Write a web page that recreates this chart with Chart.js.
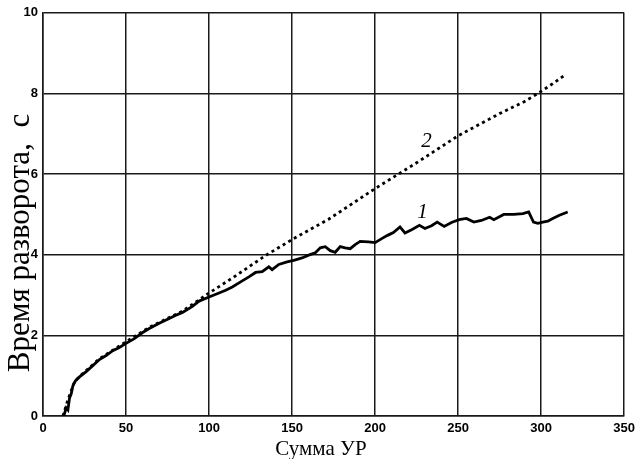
<!DOCTYPE html>
<html>
<head>
<meta charset="utf-8">
<script src="https://cdn.jsdelivr.net/npm/chart.js@4.4.0/dist/chart.umd.min.js"></script>
<style>
  html, body { margin: 0; padding: 0; background: #fff; }
  #wrap { width: 640px; height: 459px; }
</style>
</head>
<body>
<div id="wrap"><canvas id="chart" width="640" height="459"></canvas></div>
<script>
// Кривая 1 (сплошная)
const curve1X = [12.5, 14, 15, 16, 17, 18, 19.5, 22, 26, 30, 34, 38, 42, 46, 50, 55, 60, 64, 70, 76, 80, 84, 90, 94, 100,
    106, 110, 114, 120, 124, 128, 132, 136, 138, 142, 147, 151, 156, 160, 164, 167, 170, 173, 176, 179, 182, 185, 188, 191,
    196, 200, 204, 207.5, 211, 215, 218, 222, 226.7, 230, 234, 237.4, 241.6, 246, 250.6, 255, 259.5, 264, 269, 271.5,
    277.5, 283.5, 289, 292.5, 295.4, 298, 301, 304, 307, 311, 316];
const curve1Y = [0, 0.2, 0.15, 0.45, 0.55, 0.75, 0.87, 0.97, 1.1, 1.25, 1.4, 1.5, 1.62, 1.7, 1.8, 1.92, 2.07, 2.17, 2.3, 2.42, 2.5, 2.57, 2.72, 2.85, 2.95,
    3.05, 3.12, 3.2, 3.35, 3.45, 3.56, 3.58, 3.7, 3.63, 3.76, 3.82, 3.86, 3.92, 3.99, 4.05, 4.17, 4.2, 4.1, 4.06, 4.2, 4.17, 4.15, 4.25, 4.33,
    4.32, 4.3, 4.4, 4.48, 4.55, 4.69, 4.54, 4.62, 4.73, 4.65, 4.72, 4.81, 4.70, 4.8, 4.87, 4.9, 4.81, 4.85, 4.93, 4.87,
    5.0, 5.0, 5.02, 5.06, 4.81, 4.78, 4.81, 4.83, 4.9, 4.98, 5.06];

// Кривая 2 (пунктир)
const curve2X = [12, 15, 19, 22, 34, 50, 64, 84, 100, 114, 134, 151, 172, 200, 225, 250, 275, 290, 300, 308, 315];
const curve2Y = [0, 0.4, 0.85, 0.98, 1.42, 1.84, 2.2, 2.6, 3.05, 3.42, 3.98, 4.4, 4.88, 5.64, 6.28, 6.95, 7.5, 7.8, 8.05, 8.27, 8.48];

const xMin = 0, xMax = 350, xStep = 50;
const yMin = 0, yMax = 10, yStep = 2;

const xTitle = 'Сумма УР';
const yTitle = 'Время разворота,  с';

const curveLabels = ['1', '2'];
const curveLabelX = [228.5, 231];
const curveLabelY = [5.05, 6.8];

const toPoints = (xs, ys) => xs.map((x, i) => ({ x: x, y: ys[i] }));

// подписи кривых и осей
const textPlugin = {
    id: 'texts',
    afterDraw(chart) {
        const { ctx, scales } = chart;
        ctx.save();
        ctx.fillStyle = '#000';
        ctx.font = 'italic 21px "Liberation Serif"';
        ctx.textAlign = 'center';
        ctx.textBaseline = 'middle';
        curveLabels.forEach((t, i) => {
            ctx.fillText(t, scales.x.getPixelForValue(curveLabelX[i]), scales.y.getPixelForValue(curveLabelY[i]));
        });

        ctx.font = '21px "Liberation Serif"';
        ctx.textBaseline = 'alphabetic';
        ctx.fillText(xTitle, 321, 455);

        ctx.translate(29, 243);
        ctx.rotate(-Math.PI / 2);
        ctx.font = '31px "Liberation Serif"';
        ctx.fillText(yTitle, 0, 0);
        ctx.restore();
    }
};

const gridColor = '#1a1a1a';
const tickFont = { family: '"Liberation Sans Narrow", "Liberation Sans"', size: 13, weight: 'bold' };

new Chart(document.getElementById('chart'), {
    type: 'scatter',
    data: {
        datasets: [
            {
                data: toPoints(curve1X, curve1Y),
                showLine: true,
                borderColor: '#000',
                borderWidth: 2.8,
                pointRadius: 0,
                tension: 0
            },
            {
                data: toPoints(curve2X, curve2Y),
                showLine: true,
                borderColor: '#000',
                borderWidth: 2.8,
                borderDash: [3, 3.5],
                borderCapStyle: 'butt',
                pointRadius: 0,
                tension: 0
            }
        ]
    },
    options: {
        responsive: false,
        animation: false,
        layout: { padding: { top: 12, right: 12, left: 0, bottom: 0 } },
        plugins: {
            legend: { display: false },
            tooltip: { enabled: false }
        },
        scales: {
            x: {
                type: 'linear',
                min: xMin,
                max: xMax,
                ticks: { stepSize: xStep, color: '#000', font: tickFont, padding: 5, maxRotation: 0 },
                grid: { color: gridColor, lineWidth: 1.5, drawTicks: false },
                border: { color: gridColor, width: 1.5 },
                afterFit(scale) { scale.height = 43; }
            },
            y: {
                min: yMin,
                max: yMax,
                ticks: { stepSize: yStep, color: '#000', font: tickFont, padding: 5 },
                grid: { color: gridColor, lineWidth: 1.5, drawTicks: false },
                border: { color: gridColor, width: 1.5 },
                afterFit(scale) { scale.width = 43; }
            }
        }
    },
    plugins: [textPlugin]
});
</script>
</body>
</html>
